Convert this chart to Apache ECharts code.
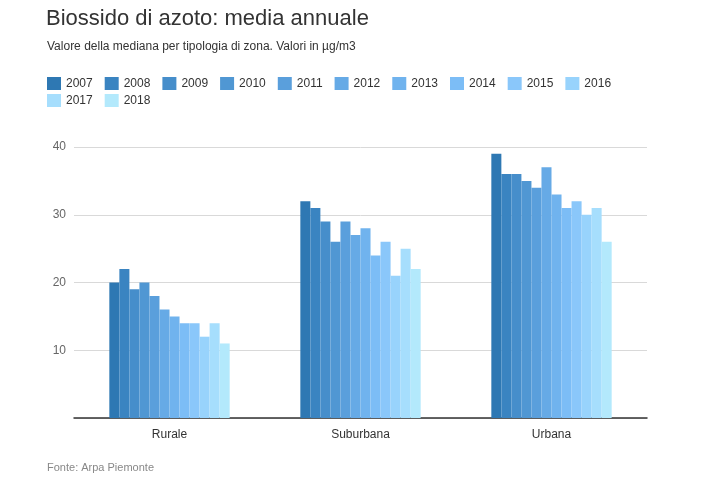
<!DOCTYPE html>
<html>
<head>
<meta charset="utf-8">
<script src="https://cdn.jsdelivr.net/npm/echarts@6/dist/echarts.min.js"></script>
<style>html,body{margin:0;padding:0;background:#fff}#c{width:721px;height:477px}</style>
</head>
<body>
<div id="c"></div>
<script>
const categories = ['Rurale', 'Suburbana', 'Urbana'];
const years = ['2007','2008','2009','2010','2011','2012','2013','2014','2015','2016','2017','2018'];
const v2007 = [20, 32, 39];
const v2008 = [22, 31, 36];
const v2009 = [19, 29, 36];
const v2010 = [20, 26, 35];
const v2011 = [18, 29, 34];
const v2012 = [16, 27, 37];
const v2013 = [15, 28, 33];
const v2014 = [14, 24, 31];
const v2015 = [14, 26, 32];
const v2016 = [12, 21, 30];
const v2017 = [14, 25, 31];
const v2018 = [11, 22, 26];
const values = [v2007, v2008, v2009, v2010, v2011, v2012, v2013, v2014, v2015, v2016, v2017, v2018];
const colors = ['#2e78b3','#3a84c1','#468ecb','#5097d3','#5a9fdc','#66aae6','#70b3ee','#7cbdf6','#8ac7fa','#98d3fc','#a6defd','#b3e9fc'];

const chart = echarts.init(document.getElementById('c'));
const font = '"Liberation Sans", Arial, sans-serif';
chart.setOption({
  animation: false,
  color: colors,
  textStyle: { fontFamily: font },
  title: [
    { text: 'Biossido di azoto: media annuale', left: 46, top: 8, padding: 0,
      textStyle: { fontSize: 22, fontWeight: 'normal', color: '#333', fontFamily: font } },
    { text: 'Valore della mediana per tipologia di zona. Valori in µg/m3', left: 47, top: 41, padding: 0,
      textStyle: { fontSize: 12, fontWeight: 'normal', color: '#333', fontFamily: font } },
    { text: 'Fonte: Arpa Piemonte', left: 47, top: 462, padding: 0,
      textStyle: { fontSize: 11, fontWeight: 'normal', color: '#888', fontFamily: font } }
  ],
  legend: [
    { data: years.slice(0, 10), left: 47, top: 77, padding: 0, itemWidth: 14, itemHeight: 13, itemGap: 12,
      icon: 'rect', textStyle: { fontSize: 12, color: '#333', fontFamily: font } },
    { data: years.slice(10), left: 47, top: 94, padding: 0, itemWidth: 14, itemHeight: 13, itemGap: 12,
      icon: 'rect', textStyle: { fontSize: 12, color: '#333', fontFamily: font } }
  ],
  grid: { left: 74, right: 74, top: 147, bottom: 59, containLabel: false },
  xAxis: {
    type: 'category', data: categories,
    axisLine: { lineStyle: { color: '#333', width: 1.5 } },
    axisTick: { show: false },
    axisLabel: { color: '#333', fontSize: 12, margin: 11 }
  },
  yAxis: {
    type: 'value', min: 0, max: 40, interval: 10,
    axisLine: { show: false }, axisTick: { show: false },
    axisLabel: { color: '#666', fontSize: 12, margin: 8, showMinLabel: false },
    splitLine: { lineStyle: { color: '#d9d9d9' } }
  },
  series: years.map((y, i) => ({
    name: y, type: 'bar', data: values[i],
    barGap: '0%', barCategoryGap: '37%',
    itemStyle: { color: colors[i] }
  }))
});
</script>
</body>
</html>
